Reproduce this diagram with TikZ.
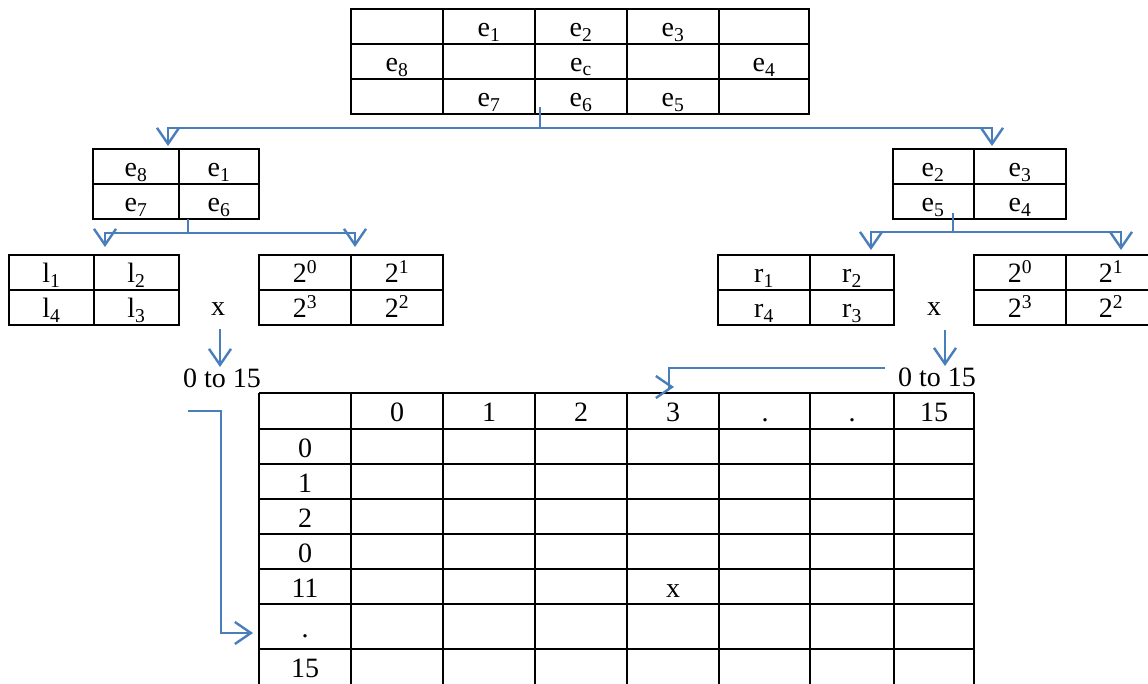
\documentclass[tikz,border=0pt]{standalone}
\usepackage{fontspec}
\setmainfont{Liberation Serif}
\usetikzlibrary{arrows.meta}
\definecolor{lineblue}{RGB}{74,126,187}
\newcommand{\fs}{\fontsize{28}{32}\selectfont}
\begin{document}
\begin{tikzpicture}[x=1pt,y=-1pt,
  tbl/.style={draw=black,line width=2.6pt},
  conn/.style={draw=lineblue,line width=2.4pt},
  arr/.style={conn,-{Straight Barb[length=16pt,width=22pt]}},
  cell/.style={inner sep=0pt,anchor=base,font=\fs}]
\useasboundingbox (0,0) rectangle (1148,684);
\clip (0,0) rectangle (1148,684);

% ---------- top table ----------
\draw[tbl] (351,9) rectangle (809,114);
\foreach \x in {443,535,627,719} \draw[tbl] (\x,9) -- (\x,114);
\foreach \y in {44,79} \draw[tbl] (351,\y) -- (809,\y);
\node[cell] (t1) at (489,37) {e\textsubscript{1}};
\node[cell] (t2) at (581,37) {e\textsubscript{2}};
\node[cell] (t3) at (673,37) {e\textsubscript{3}};
\node[cell] (t8) at (397,72) {e\textsubscript{8}};
\node[cell] (tc) at (581,72) {e\textsubscript{c}};
\node[cell] (t4) at (764,72) {e\textsubscript{4}};
\node[cell] (t7) at (489,107) {e\textsubscript{7}};
\node[cell] (t6) at (581,107) {e\textsubscript{6}};
\node[cell] (t5) at (673,107) {e\textsubscript{5}};

% ---------- left middle table ----------
\draw[tbl] (93,149) rectangle (259,219);
\draw[tbl] (179,149) -- (179,219);
\draw[tbl] (93,184) -- (259,184);
\node[cell] (l8) at (136,177) {e\textsubscript{8}};
\node[cell] (l1) at (219,177) {e\textsubscript{1}};
\node[cell] (l7) at (136,212) {e\textsubscript{7}};
\node[cell] (l6) at (219,212) {e\textsubscript{6}};

% ---------- right middle table ----------
\draw[tbl] (893,149) rectangle (1066,219);
\draw[tbl] (974,149) -- (974,219);
\draw[tbl] (893,184) -- (1066,184);
\node[cell] (r2) at (933,177) {e\textsubscript{2}};
\node[cell] (r3) at (1020,177) {e\textsubscript{3}};
\node[cell] (r5) at (933,212) {e\textsubscript{5}};
\node[cell] (r4) at (1020,212) {e\textsubscript{4}};

% ---------- l table ----------
\draw[tbl] (9,255) rectangle (179,325);
\draw[tbl] (94,255) -- (94,325);
\draw[tbl] (9,290) -- (179,290);
\node[cell] (ll1) at (51.5,283) {l\textsubscript{1}};
\node[cell] (ll2) at (136.5,283) {l\textsubscript{2}};
\node[cell] (ll4) at (51.5,318) {l\textsubscript{4}};
\node[cell] (ll3) at (136.5,318) {l\textsubscript{3}};

% ---------- left power table ----------
\draw[tbl] (259,255) rectangle (443,325);
\draw[tbl] (351,255) -- (351,325);
\draw[tbl] (259,290) -- (443,290);
\node[cell] (lp0) at (305,283) {2\textsuperscript{0}};
\node[cell] (lp1) at (397,283) {2\textsuperscript{1}};
\node[cell] (lp3) at (305,318) {2\textsuperscript{3}};
\node[cell] (lp2) at (397,318) {2\textsuperscript{2}};

% ---------- r table ----------
\draw[tbl] (718,255) rectangle (894,325);
\draw[tbl] (810,255) -- (810,325);
\draw[tbl] (718,290) -- (894,290);
\node[cell] (rr1) at (764,283) {r\textsubscript{1}};
\node[cell] (rr2) at (852,283) {r\textsubscript{2}};
\node[cell] (rr4) at (764,318) {r\textsubscript{4}};
\node[cell] (rr3) at (852,318) {r\textsubscript{3}};

% ---------- right power table ----------
\draw[tbl] (974,255) rectangle (1158,325);
\draw[tbl] (1066,255) -- (1066,325);
\draw[tbl] (974,290) -- (1158,290);
\node[cell] (rp0) at (1020,283) {2\textsuperscript{0}};
\node[cell] (rp1) at (1111,283) {2\textsuperscript{1}};
\node[cell] (rp3) at (1020,318) {2\textsuperscript{3}};
\node[cell] (rp2) at (1111,318) {2\textsuperscript{2}};

% ---------- x labels and ranges ----------
\node[cell] (xl) at (218,316) {x};
\node[cell] (xr) at (934,316) {x};
\node[cell] (rl) at (222,387) {0 to 15};
\node[cell] (rrg) at (937,386) {0 to 15};

% ---------- big table ----------
\foreach \x in {259,351,443,535,627,719,810,894,974} \draw[tbl] (\x,393) -- (\x,690);
\foreach \y in {393,429,464,499,534,569,604,649} \draw[tbl] (259,\y) -- (974,\y);
\foreach \t/\x in {0/397,1/489,2/581,3/673,./765,./852,15/934}
  \node[cell] at (\x,421) {\t};
\foreach \t/\y in {0/457,1/492,2/527,0/562,11/597,./637,15/677}
  \node[cell] at (305,\y) {\t};
\node[cell] (bx) at (673,597) {x};

% ---------- connectors ----------
\coordinate (s0) at (540,107);
\coordinate (j0) at (540,128);
\coordinate (a0l) at (168,146);
\coordinate (a0r) at (992,146);
\draw[conn] (s0) -- (j0);
\draw[arr] (j0) -| (a0l);
\draw[arr] (j0) -| (a0r);

\coordinate (s1) at (188,219);
\coordinate (j1) at (188,233);
\coordinate (a1l) at (105,247);
\coordinate (a1r) at (355,247);
\draw[conn] (s1) -- (j1);
\draw[arr] (j1) -| (a1l);
\draw[arr] (j1) -| (a1r);

\coordinate (s2) at (953,213);
\coordinate (j2) at (953,232);
\coordinate (a2l) at (871,250);
\coordinate (a2r) at (1121,250);
\draw[conn] (s2) -- (j2);
\draw[arr] (j2) -| (a2l);
\draw[arr] (j2) -| (a2r);

\coordinate (xa) at (220,329);
\coordinate (xb) at (220,367);
\draw[arr] (xa) -- (xb);
\coordinate (ya) at (945,330);
\coordinate (yb) at (945,366);
\draw[arr] (ya) -- (yb);

\coordinate (p0) at (885,368);
\coordinate (p1) at (669,387);
\coordinate (p2) at (674,387);
\draw[arr] (p0) -| (p1) -- (p2);

\coordinate (q0) at (188,411);
\coordinate (q1) at (221,633);
\coordinate (q2) at (253,633);
\draw[arr] (q0) -| (q1) -- (q2);
\end{tikzpicture}
\end{document}
